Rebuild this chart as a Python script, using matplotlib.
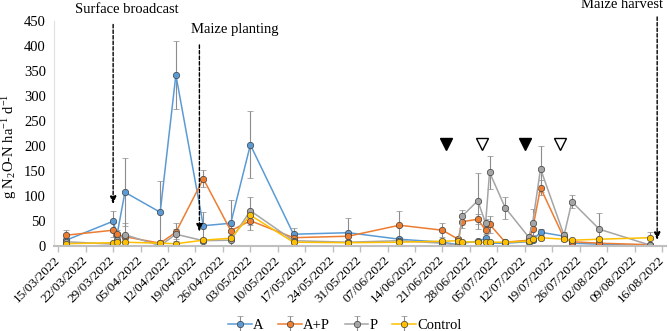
import matplotlib
matplotlib.use('Agg')

import numpy as np
import pandas as pd
import matplotlib.pyplot as plt
import matplotlib.dates as mdates

plt.rcParams['font.family'] = ['Liberation Serif', 'DejaVu Serif']
plt.rcParams['mathtext.fontset'] = 'custom'
plt.rcParams['mathtext.rm'] = 'Liberation Serif'
plt.rcParams['mathtext.it'] = 'Liberation Serif:italic'

# ---------- DATA ----------
dates = pd.to_datetime([
    '2022-03-17', '2022-03-29', '2022-03-30', '2022-04-01', '2022-04-10',
    '2022-04-14', '2022-04-21', '2022-04-28', '2022-05-03', '2022-05-14',
    '2022-05-28', '2022-06-10', '2022-06-21', '2022-06-25', '2022-06-26',
    '2022-06-30', '2022-07-02', '2022-07-03', '2022-07-07', '2022-07-13',
    '2022-07-14', '2022-07-16', '2022-07-22', '2022-07-24', '2022-07-31',
    '2022-08-13'])

a_vals = [11, 49, 22, 107, 67, 342, 40, 45, 202, 23, 26, 13, 7, 2, 5,
          9, 15, 5, 5, 8, 11, 27, 19, 5, 3, 0]
a_err = [5, 21, 6, 68, 63, 68, 28, 46, 67, 12, 29, 4, 3, 1, 2,
         3, 5, 2, 2, 3, 4, 6, 5, 2, 1, 0]

ap_vals = [21, 31, 23, 18, 5, 27, 134, 30, 50, 16, 19, 41, 31, 13, 48,
           53, 31, 43, 7, 11, 34, 116, 15, 8, 5, 2]
ap_err = [10, 14, 8, 5, 3, 18, 17, 10, 19, 8, 8, 28, 14, 5, 12,
          10, 8, 17, 3, 4, 12, 15, 5, 3, 2, 1]

p_vals = [8, 3, 12, 22, 0, 23, 10, 11, 70, 10, 7, 10, 5, 1, 59,
          90, 45, 147, 76, 17, 46, 154, 21, 88, 33, 1]
p_err = [4, 2, 5, 23, 1, 10, 5, 10, 28, 4, 3, 4, 2, 1, 12,
         56, 8, 33, 22, 5, 27, 46, 6, 13, 33, 1]

c_vals = [4, 6, 7, 7, 5, 4, 11, 15, 61, 7, 6, 7, 9, 10, 8,
          7, 7, 7, 7, 9, 13, 16, 13, 11, 13, 16]
c_err = [2, 2, 2, 2, 2, 2, 3, 4, 8, 2, 2, 2, 3, 3, 2,
         2, 2, 2, 2, 3, 3, 4, 3, 3, 3, 11]

series_names = ['A', 'A+P', 'P', 'Control']
series_colors = ['#5B9BD5', '#ED7D31', '#A5A5A5', '#FFC000']

# event triangles
filled_tri = pd.to_datetime(['2022-06-22', '2022-07-12'])
open_tri = pd.to_datetime(['2022-07-01', '2022-07-21'])
tri_level = 204

# ---------- PLOT ----------
fig = plt.figure(figsize=(6.69, 3.31), dpi=100)
ax = fig.add_axes([0.0812, 0.2577, 0.9143, 0.679])

for vals, errs, name, col in zip([a_vals, ap_vals, p_vals, c_vals],
                                 [a_err, ap_err, p_err, c_err],
                                 series_names, series_colors):
    ax.errorbar(dates, vals, yerr=errs, fmt='-o', color=col, lw=1.1,
                ms=4.6, mfc=col, mec='#404040', mew=0.5,
                ecolor='#8c8c8c', elinewidth=0.8, capsize=2, capthick=0.8,
                label=name)

ax.plot(filled_tri, [tri_level] * len(filled_tri), 'v', ms=8.5,
        color='black', mec='black', clip_on=False)
ax.plot(open_tri, [tri_level] * len(open_tri), 'v', ms=8.5,
        mfc='white', mec='black', mew=1.0, clip_on=False)

# event arrows
events = [
    ('Surface broadcast', '2022-03-29', 443, 83, '2022-04-01 12:00', 472),
    ('Maize planting', '2022-04-20', 402, 28, '2022-04-29', 432),
    ('Maize harvest', '2022-08-14 18:00', 458, 11, '2022-08-05 20:00', 482),
]
for label, d, y0, y1, tx, ty in events:
    d = pd.Timestamp(d)
    ax.annotate('', xy=(d, y1), xytext=(d, y0),
                arrowprops=dict(arrowstyle='-|>,head_width=0.18,head_length=0.45',
                                color='black', lw=1.0, ls=(0, (2.5, 1.5)),
                                shrinkA=0, shrinkB=0),
                annotation_clip=False)
    ax.text(pd.Timestamp(tx), ty, label, ha='center', va='center',
            fontsize=10.5, clip_on=False)

ax.set_xlim(pd.Timestamp('2022-03-14'), pd.Timestamp('2022-08-17'))
ax.set_ylim(0, 450)
ax.set_yticks(np.arange(0, 451, 50))

ticks = pd.date_range('2022-03-15', '2022-08-16', freq='7D')
ax.set_xticks(ticks)
ax.xaxis.set_major_formatter(mdates.DateFormatter('%d/%m/%Y'))
plt.setp(ax.get_xticklabels(), rotation=45, ha='right', va='center',
         rotation_mode='anchor', fontsize=9.5)
ax.tick_params(axis='y', length=0, labelsize=10.5, pad=6)
ax.tick_params(axis='x', length=4, color='#bfbfbf', width=1.0, pad=5)

for s in ['top', 'right']:
    ax.spines[s].set_visible(False)
ax.spines['bottom'].set_color('#bfbfbf')
ax.spines['bottom'].set_linewidth(1.5)
ax.spines['left'].set_color('#e0e0e0')
ax.spines['left'].set_linewidth(0.8)

fig.text(10 / 669, 1 - 146 / 331, r'g N$_2$O-N ha$^{-1}$ d$^{-1}$',
         rotation=90, ha='center', va='center', fontsize=10.5)

ax.legend(loc='center', bbox_to_anchor=(345 / 669, 1 - 325 / 331),
          bbox_transform=fig.transFigure, ncol=4, frameon=False,
          fontsize=10.5, handlelength=1.6, handletextpad=0.1,
          columnspacing=1.0)

fig.savefig('out.png', dpi=100)
